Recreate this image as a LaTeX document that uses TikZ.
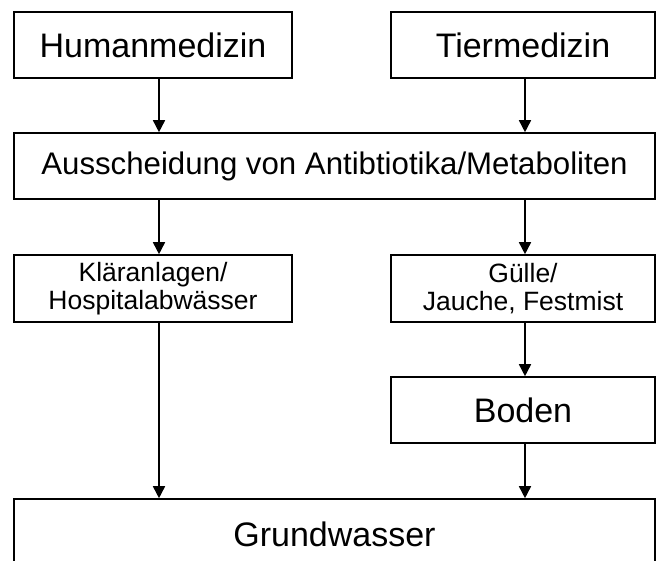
\documentclass[tikz,border=0pt]{standalone}
\usepackage{fontspec}
\setmainfont{Liberation Sans}
\usetikzlibrary{arrows.meta}
\begin{document}
\begin{tikzpicture}[x=1pt,y=-1pt,
  box/.style={draw=black,line width=1.6pt,inner sep=0pt,align=center},
  big/.style={font=\fontsize{34}{40}\selectfont},
  mid/.style={font=\fontsize{31.2}{36}\selectfont},
  small/.style={font=\fontsize{26.5}{28.5}\selectfont},
  arr/.style={-{Triangle[length=12pt,width=12pt]},line width=1.6pt}]
\useasboundingbox (0,0) rectangle (656,560);
\node[box,big,minimum width=278pt,minimum height=66pt] (hm) at (153,45) {Humanmedizin};
\node[box,big,minimum width=264pt,minimum height=66pt] (tm) at (523,45) {Tiermedizin};
\node[box,mid,minimum width=641pt,minimum height=66pt] (aus) at (334.5,166) {Ausscheidung von Antibtiotika/Metaboliten};
\node[box,small,minimum width=278pt,minimum height=67pt] (kl) at (153,288.5) {Kläranlagen/\\Hospitalabwässer};
\node[box,small,minimum width=264pt,minimum height=67pt] (gu) at (523,288.5) {Gülle/\\Jauche, Festmist};
\node[box,big,minimum width=264pt,minimum height=66pt] (bo) at (523,410) {Boden};
\node[box,big,minimum width=641pt,minimum height=70pt] (gw) at (334.5,534) {Grundwasser};
\coordinate (xl) at (159,0);
\coordinate (xr) at (525,0);
\draw[arr] (hm.south -| xl) -- (aus.north -| xl);
\draw[arr] (tm.south -| xr) -- (aus.north -| xr);
\draw[arr] (aus.south -| xl) -- (kl.north -| xl);
\draw[arr] (aus.south -| xr) -- (gu.north -| xr);
\draw[arr] (kl.south -| xl) -- (gw.north -| xl);
\draw[arr] (gu.south -| xr) -- (bo.north -| xr);
\draw[arr] (bo.south -| xr) -- (gw.north -| xr);
\end{tikzpicture}
\end{document}
